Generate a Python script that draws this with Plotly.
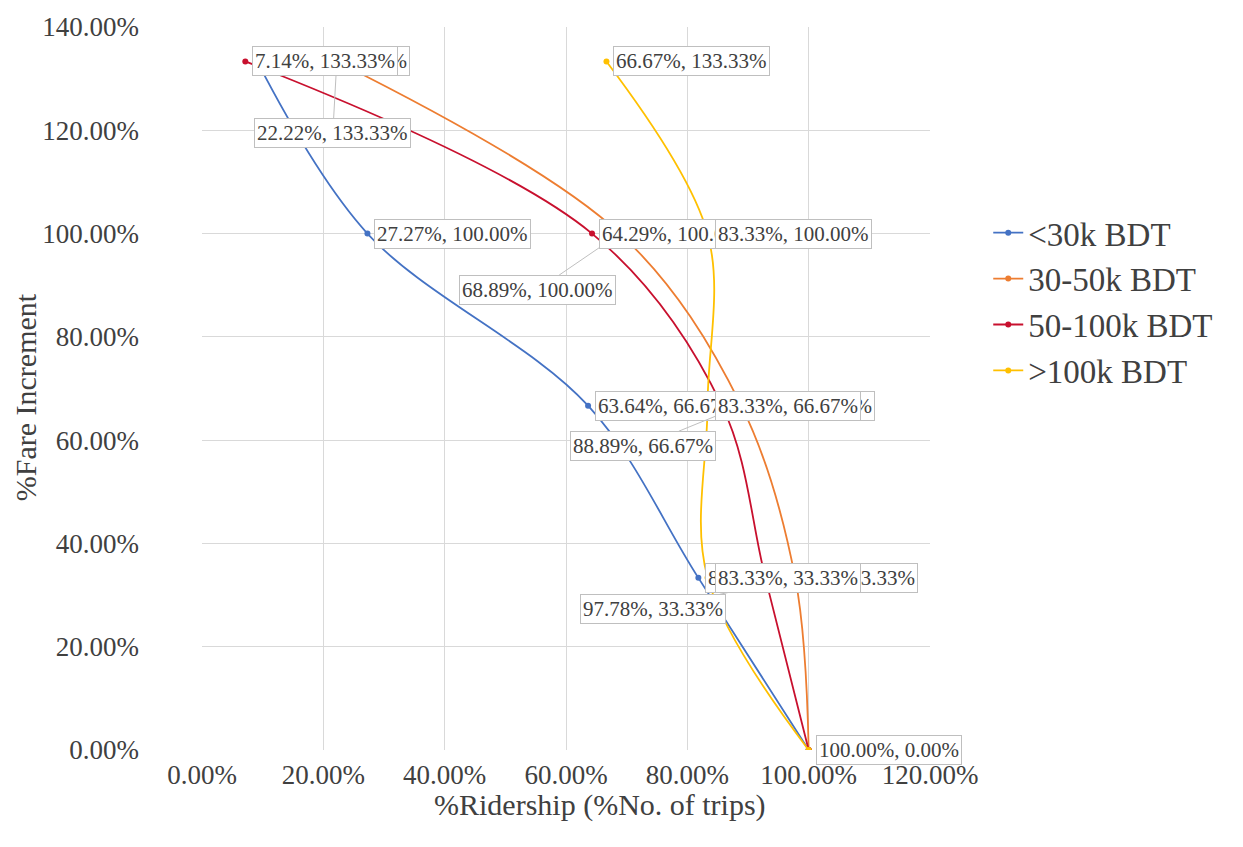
import plotly.graph_objects as go

# Fare increment levels (%) shared by every income group
fare_increment = [0.00, 33.33, 66.67, 100.00, 133.33]

# Ridership retained (% of trips) for each monthly income group
income_groups = ["<30k BDT", "30-50k BDT", "50-100k BDT", ">100k BDT"]
ridership = {
    "<30k BDT": [100.00, 81.82, 63.64, 27.27, 9.09],
    "30-50k BDT": [100.00, 97.78, 88.89, 68.89, 22.22],
    "50-100k BDT": [100.00, 92.86, 85.71, 64.29, 7.14],
    ">100k BDT": [100.00, 83.33, 83.33, 83.33, 66.67],
}
colors = {
    "<30k BDT": "#4472C4",
    "30-50k BDT": "#ED7D31",
    "50-100k BDT": "#C8102E",
    ">100k BDT": "#FFC000",
}

# Data labels of the 30-50k group sit below-left of their points with a leader line
# (pixel offsets of the label from its point, index by fare level)
callout_offsets = {1: (-142, 31), 2: (-98, 40), 3: (-82, 56), 4: (-4, 72)}

FONT = "Liberation Serif, Times New Roman, serif"
TEXT = "#404040"

fig = go.Figure()
for g in income_groups:
    fig.add_trace(go.Scatter(
        x=ridership[g], y=fare_increment, name=g,
        mode="lines+markers",
        line=dict(color=colors[g], width=1.8, shape="spline", smoothing=1.0),
        marker=dict(color=colors[g], size=6),
    ))

annotations = []
for g in income_groups:
    for i, (xv, yv) in enumerate(zip(ridership[g], fare_increment)):
        label = f"{xv:.2f}%, {yv:.2f}%"
        common = dict(
            x=xv, y=yv, text=label,
            font=dict(family=FONT, size=21, color=TEXT),
            bgcolor="white", bordercolor="#BFBFBF", borderwidth=1, borderpad=2,
        )
        if g == "30-50k BDT" and i in callout_offsets:
            dx, dy = callout_offsets[i]
            annotations.append(dict(
                **common, showarrow=True, ax=dx, ay=dy,
                arrowhead=0, arrowwidth=1, arrowcolor="#BFBFBF", standoff=6,
            ))
        else:
            annotations.append(dict(
                **common, showarrow=False, xanchor="left", yanchor="middle", xshift=7,
            ))

# Axis titles
title_font = dict(family=FONT, size=30, color=TEXT)
annotations.append(dict(
    text="%Ridership (%No. of trips)", xref="paper", yref="paper",
    x=0.547, y=-0.0755, xanchor="center", yanchor="middle", showarrow=False,
    font=title_font,
))
annotations.append(dict(
    text="%Fare Increment", xref="paper", yref="paper",
    x=-0.243, y=0.488, xanchor="center", yanchor="middle", showarrow=False,
    textangle=-90, font=title_font,
))

axis_common = dict(
    showgrid=True, gridcolor="#D9D9D9", gridwidth=1,
    zeroline=False, showline=False, ticks="",
    tickfont=dict(family=FONT, size=27, color=TEXT),
    ticksuffix="%", tickformat=".2f",
)

fig.update_layout(
    width=1243, height=847,
    margin=dict(l=202, r=313, t=22, b=97),
    paper_bgcolor="white", plot_bgcolor="white",
    font=dict(family=FONT, color=TEXT),
    xaxis=dict(
        **axis_common, range=[0, 120], dtick=20, tick0=0, ticklabelstandoff=6,
    ),
    yaxis=dict(
        **axis_common, range=[0, 140], dtick=20, tick0=0, ticklabelstandoff=62,
    ),
    legend=dict(
        x=1.08, y=0.62, xanchor="left", yanchor="middle",
        font=dict(family=FONT, size=33, color=TEXT),
        bgcolor="rgba(0,0,0,0)", tracegroupgap=0, itemwidth=30,
    ),
    annotations=annotations,
    showlegend=True,
)

fig.write_html("out.html")
